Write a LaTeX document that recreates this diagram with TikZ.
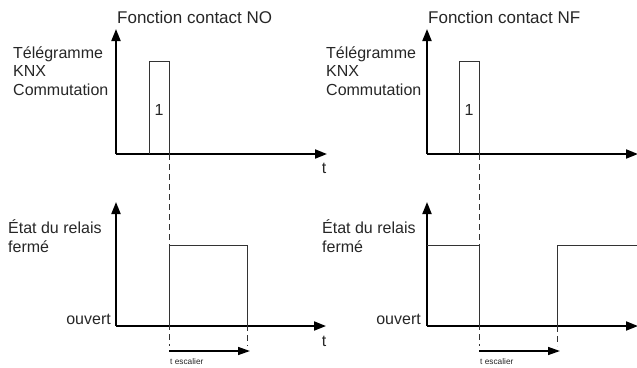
\documentclass[tikz,border=0pt]{standalone}
\usepackage{fontspec}
\setmainfont{Liberation Sans}
\usetikzlibrary{arrows.meta}
\begin{document}
\begin{tikzpicture}[x=1pt,y=-1pt,
  axis/.style={line width=1.8pt,-{Triangle[length=12pt,width=9pt]}},
  sig/.style={line width=0.9pt,draw=black!80},
  guide/.style={line width=0.8pt,draw=black!80,dash pattern=on 6pt off 4pt},
  dur/.style={line width=1.5pt,-{Triangle[length=12pt,width=8pt]}},
  lbl/.style={font=\fontsize{16}{18.5}\selectfont,inner sep=0pt,text=black!85},
  head/.style={font=\fontsize{17}{18.5}\selectfont,inner sep=0pt,text=black!85},
  small/.style={font=\fontsize{8.3}{10}\selectfont,inner sep=0pt,text=black!85}]
\useasboundingbox (0,0) rectangle (637,367);
% ---------- left panel ----------
\coordinate (LO1) at (116,154);
\coordinate (LY1) at (116,29);
\coordinate (LX1) at (327,154);
\draw[axis] (LO1) -- (LY1);
\draw[axis] (LO1) -- (LX1);
\coordinate (LP1) at (149,154);
\coordinate (LP2) at (149,61);
\coordinate (LP3) at (169,61);
\coordinate (LP4) at (169,154);
\draw[sig] (LP1) -- (LP2) -- (LP3) -- (LP4);
\node[lbl] (L1) at (159,110) {1};
\node[head,anchor=west] (LT) at (117,17) {Fonction contact NO};
\node[lbl,anchor=west,align=left] (LTel) at (13,71) {Télégramme\\KNX\\Commutation};
\node[lbl] (Lt1) at (324,168) {t};

\coordinate (LO2) at (116,326);
\coordinate (LY2) at (116,202);
\coordinate (LX2) at (326,326);
\draw[axis] (LO2) -- (LY2);
\draw[axis] (LO2) -- (LX2);
\coordinate (LR1) at (169,326);
\coordinate (LR2) at (169,245);
\coordinate (LR3) at (247,245);
\coordinate (LR4) at (247,326);
\draw[sig] (LR1) -- (LR2) -- (LR3) -- (LR4);
\node[lbl,anchor=west,align=left] (LEt) at (8,236) {État du relais\\fermé};
\node[lbl,anchor=east] (Lou) at (111,319) {ouvert};
\node[lbl] (Lt2) at (324,341) {t};
\coordinate (LD1) at (169,346);
\coordinate (LD2) at (247,346);
\draw[guide] (LP4) -- (LD1);
\draw[guide] (LR3) -- (LD2);
\coordinate (LA1) at (169,351);
\coordinate (LA2) at (250,351);
\draw[dur] (LA1) -- (LA2);
\node[small,anchor=west] (Lesc) at (170,362) {t escalier};

% ---------- right panel ----------
\coordinate (RO1) at (427,154);
\coordinate (RY1) at (427,29);
\coordinate (RX1) at (638,154);
\draw[axis] (RO1) -- (RY1);
\draw[axis] (RO1) -- (RX1);
\coordinate (RP1) at (459,154);
\coordinate (RP2) at (459,61);
\coordinate (RP3) at (479,61);
\coordinate (RP4) at (479,154);
\draw[sig] (RP1) -- (RP2) -- (RP3) -- (RP4);
\node[lbl] (R1) at (469,110) {1};
\node[head,anchor=west] (RT) at (428,17) {Fonction contact NF};
\node[lbl,anchor=west,align=left] (RTel) at (326,71) {Télégramme\\KNX\\Commutation};

\coordinate (RO2) at (427,326);
\coordinate (RY2) at (427,202);
\coordinate (RX2) at (638,326);
\draw[axis] (RO2) -- (RY2);
\draw[axis] (RO2) -- (RX2);
\coordinate (RR0) at (427,245);
\coordinate (RR1) at (479,245);
\coordinate (RR2) at (479,326);
\coordinate (RR3) at (557,326);
\coordinate (RR4) at (557,245);
\coordinate (RR5) at (638,245);
\draw[sig] (RR0) -- (RR1) -- (RR2);
\draw[sig] (RR3) -- (RR4) -- (RR5);
\node[lbl,anchor=west,align=left] (REt) at (322,236) {État du relais\\fermé};
\node[lbl,anchor=east] (Rou) at (421,319) {ouvert};
\coordinate (RD1) at (479,346);
\coordinate (RD2) at (557,346);
\draw[guide] (RP4) -- (RD1);
\draw[guide] (RR3) -- (RD2);
\coordinate (RA1) at (479,351);
\coordinate (RA2) at (560,351);
\draw[dur] (RA1) -- (RA2);
\node[small,anchor=west] (Resc) at (480,362) {t escalier};
\end{tikzpicture}
\end{document}
